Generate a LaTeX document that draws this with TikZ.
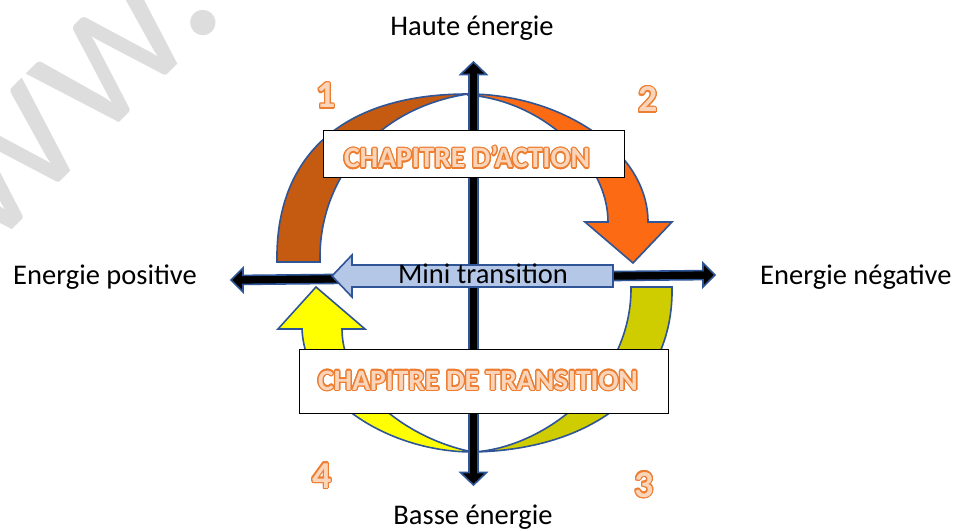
\documentclass[tikz,border=0pt]{standalone}
\usepackage{fontspec}
\setmainfont{Carlito}
\usepackage{contour}
\contourlength{1.3bp}
\definecolor{outblue}{HTML}{2F5597}
\definecolor{darkorange}{HTML}{C55A11}
\definecolor{brightorange}{HTML}{FC6A14}
\definecolor{olive}{HTML}{CFCD00}
\definecolor{yel}{HTML}{FFFF00}
\definecolor{lightblue}{HTML}{B4C7E7}
\definecolor{wordorange}{HTML}{ED7D31}
\definecolor{peach}{HTML}{FBD5BA}
\definecolor{wmgray}{HTML}{DDDDDD}
\newcommand{\orangetext}[1]{\contour{wordorange}{\textcolor{peach}{#1}}}
\tikzset{
  outl/.style={draw=outblue, line width=1.6bp, line join=miter},
  lbl/.style={font=\fontsize{28.5bp}{30bp}\selectfont, inner sep=0pt},
  numlbl/.style={font=\bfseries\fontsize{38bp}{40bp}\selectfont, inner sep=0pt},
  chap/.style={font=\bfseries\fontsize{29.5bp}{31bp}\selectfont, inner sep=0pt},
  whitebox/.style={draw=black, fill=white, line width=1bp, inner sep=0pt},
  wm/.style={font=\fontsize{210bp}{210bp}\selectfont, text=wmgray, inner sep=0pt},
}
\begin{document}
\begin{tikzpicture}[x=1bp,y=-1bp]
\useasboundingbox (0,0) rectangle (959,531);
\fill[white] (0,0) rectangle (959,531);
% watermark
\begin{scope}
\clip (0,0) rectangle (959,531);
\node[wm, rotate=45, anchor=base west] (wm) at (-118,360) {www.};
\end{scope}
% top arc, left piece (dark orange)
\path[outl, fill=darkorange] (277,262) .. controls (275,158) and (340,94) .. (468,94)
  .. controls (375,108) and (318,180) .. (320,262) -- cycle;
% top arc, right piece with head (orange)
\path[outl, fill=brightorange] (468,94) .. controls (560,94) and (648,150) .. (648,222)
  -- (672,222) -- (633,263) -- (585,222) -- (608,222)
  .. controls (608,160) and (540,100) .. (468,95) -- cycle;
% bottom arc, right piece (olive)
\path[outl, fill=olive] (631,287) -- (672,287) .. controls (674,390) and (590,450) .. (473,452)
  .. controls (545,448) and (632,380) .. (631,287) -- cycle;
% bottom arc, left piece with head (yellow)
\path[outl, fill=yel] (473,452) .. controls (390,452) and (305,400) .. (302,329)
  -- (278,329) -- (316,287) -- (365,329) -- (342,329)
  .. controls (342,390) and (410,440) .. (473,452) -- cycle;
% vertical axis
\path[outl, fill=black] (473.5,62) -- (486.5,74.5) -- (478,74.5) -- (478,472.5) -- (486.5,472.5)
  -- (473.5,485) -- (460.5,472.5) -- (469,472.5) -- (469,74.5) -- (460.5,74.5) -- cycle;
% horizontal axis (slightly tilted)
\path[outl, fill=black] (231,280) -- (243,267.9) -- (243,275.4) -- (703,270.6) -- (703,263.1)
  -- (715,275) -- (703,287.1) -- (703,279.6) -- (243,284.4) -- (243,291.9) -- cycle;
% mini transition arrow
\path[outl, fill=lightblue] (332,276) -- (352,255) -- (352,265) -- (613,265) -- (613,287)
  -- (352,287) -- (352,297) -- cycle;
\node[lbl, anchor=base] (mini) at (483,284) {Mini transition};
% boxes
\node[whitebox, minimum width=301bp, minimum height=47bp] (actbox) at (473.5,154.5) {};
\node[chap, anchor=base] (acttext) at (467,168) {\orangetext{CHAPITRE D’ACTION}};
\node[whitebox, minimum width=369bp, minimum height=63bp] (trbox) at (483.5,381.5) {};
\node[chap, anchor=base] (trtext) at (478,390) {\orangetext{CHAPITRE DE TRANSITION}};
% axis labels
\node[lbl, anchor=base] (haute) at (472,36) {Haute énergie};
\node[lbl, anchor=base] (basse) at (473,524) {Basse énergie};
\node[lbl, anchor=base west] (pos) at (13,285) {Energie positive};
\node[lbl, anchor=base west] (neg) at (760,285) {Energie négative};
% numbers
\node[numlbl, anchor=base] (n1) at (326,108) {\orangetext{1}};
\node[numlbl, anchor=base] (n2) at (648,112) {\orangetext{2}};
\node[numlbl, anchor=base] (n3) at (644,497) {\orangetext{3}};
\node[numlbl, anchor=base] (n4) at (322,488) {\orangetext{4}};
\end{tikzpicture}
\end{document}
